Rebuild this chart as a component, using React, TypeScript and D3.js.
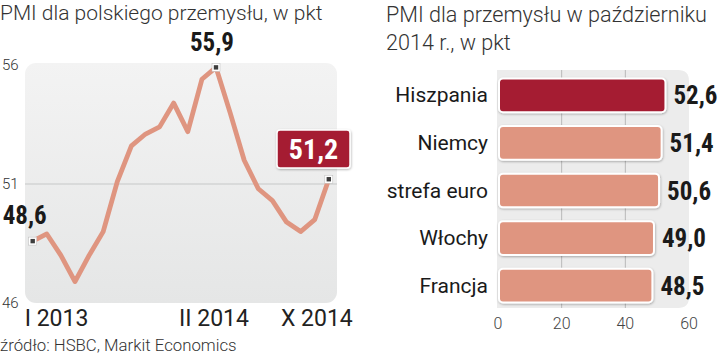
import React from "react";
import * as d3 from "d3";

const pmiPoland = [48.6, 48.9, 48.0, 46.9, 48.0, 49.0, 51.1, 52.6, 53.1, 53.4, 54.4, 53.2, 55.4, 55.9, 54.0, 52.0, 50.8, 50.3, 49.4, 49.0, 49.5, 51.2];
const xTickIdx = [0, 13, 21];
const xTickLabels = ["I 2013", "II 2014", "X 2014"];
const yTicks = [46, 51, 56];
const highlightIdx = [0, 13, 21];

const countries = ["Hiszpania", "Niemcy", "strefa euro", "Włochy", "Francja"];
const countryValues = [52.6, 51.4, 50.6, 49.0, 48.5];
const barTicks = [0, 20, 40, 60];

const leftTitle = "PMI dla polskiego przemysłu, w pkt";
const rightTitle = ["PMI dla przemysłu w październiku", "2014 r., w pkt"];
const source = "źródło: HSBC, Markit Economics";

const LIGHT = "Roboto, 'Open Sans', sans-serif";
const COND = "'Roboto Condensed', 'Liberation Sans Narrow', 'DejaVu Sans Condensed', 'Arial Narrow', sans-serif";
const SALMON = "#df9580";
const RED = "#a51c30";
const fmt = (v: number) => v.toFixed(1).replace(".", ",");

export default function App() {
  const x = d3.scaleLinear().domain([0, pmiPoland.length - 1]).range([32.7, 328.8]);
  const y = d3.scaleLinear().domain([46, 56]).range([303, 65]);
  const line = d3.line<number>().x((_, i) => x(i)).y((d) => y(d));

  const bx = d3.scaleLinear().domain([0, 60]).range([498, 689]);
  const by = d3.scaleBand().domain(countries).range([71, 310]).paddingInner(0.29).paddingOuter(0.16);

  const xAnchors = ["start", "middle", "end"];
  const xOffsets = [-8, -2, 24];

  return (
    <svg width={720} height={355} style={{ position: "absolute", left: 0, top: 0, background: "#fff" }}>
      <defs>
        <linearGradient id="panelGrad" x1="0" y1="0" x2="0" y2="1">
          <stop offset="0" stopColor="#f3f3f3" />
          <stop offset="1" stopColor="#e5e6e6" />
        </linearGradient>
        <filter id="shadow" x="-10%" y="-20%" width="120%" height="150%">
          <feDropShadow dx="0.5" dy="1" stdDeviation="1" floodColor="#000" floodOpacity="0.3" />
        </filter>
      </defs>

      {/* Left chart */}
      <text x={0} y={20} fontFamily={LIGHT} fontWeight={300} fontSize={21} fill="#333">{leftTitle}</text>
      <rect x={25} y={63} width={312} height={240} rx={11} fill="url(#panelGrad)" />
      <line x1={25} x2={337} y1={y(51)} y2={y(51)} stroke="#c6c7c7" strokeWidth={1.2} />
      {yTicks.map((t) => (
        <text key={t} x={2} y={y(t) + 5} fontFamily={LIGHT} fontWeight={300} fontSize={15} fill="#333">{t}</text>
      ))}
      {xTickIdx.map((idx, i) => (
        <text key={idx} x={x(idx) + xOffsets[i]} y={326} textAnchor={xAnchors[i]} fontFamily={LIGHT} fontWeight={400} fontSize={23} fill="#222">{xTickLabels[i]}</text>
      ))}
      <path d={line(pmiPoland) || ""} fill="none" stroke={SALMON} strokeWidth={4.8} strokeLinejoin="round" strokeLinecap="round" />
      {highlightIdx.map((idx) => (
        <g key={idx}>
          <rect x={x(idx) - 4} y={y(pmiPoland[idx]) - 4} width={8} height={8} fill="#fff" stroke="#bbb" strokeWidth={0.5} />
          <rect x={x(idx) - 2.2} y={y(pmiPoland[idx]) - 2.2} width={4.4} height={4.4} fill="#3d3d3d" />
        </g>
      ))}
      <text x={x(0) - 30} y={y(pmiPoland[0]) - 17} fontFamily={COND} fontWeight={700} fontSize={25} fill="#1a1a1a">{fmt(pmiPoland[0])}</text>
      <text x={x(13) - 4} y={51} textAnchor="middle" fontFamily={COND} fontWeight={700} fontSize={25} fill="#1a1a1a">{fmt(pmiPoland[13])}</text>
      <g filter="url(#shadow)">
        <rect x={277} y={130} width={73} height={38} rx={3} fill={RED} stroke="#fff" strokeWidth={1.5} />
      </g>
      <text x={313.5} y={159} textAnchor="middle" fontFamily={COND} fontWeight={700} fontSize={28} fill="#fff">{fmt(pmiPoland[21])}</text>
      <text x={0} y={351} fontFamily={LIGHT} fontWeight={300} fontSize={16.8} fill="#333">{source}</text>

      {/* Right chart */}
      {rightTitle.map((t, i) => (
        <text key={i} x={386} y={22 + i * 28} fontFamily={LIGHT} fontWeight={300} fontSize={21.6} fill="#333">{t}</text>
      ))}
      <path d={`M497,70 H678 Q689,70 689,81 V297 Q689,308 678,308 H497 Z`} fill="#ececec" />
      {barTicks.filter((t) => t > 0 && t < 60).map((t) => (
        <line key={t} x1={bx(t)} x2={bx(t)} y1={70} y2={308} stroke="#b9b9b9" strokeWidth={1} />
      ))}
      {countries.map((c, i) => {
        const yy = by(c) as number;
        const h = by.bandwidth();
        return (
          <g key={c}>
            <rect x={bx(0) + 1} y={yy} width={bx(countryValues[i]) - bx(0) - 1} height={h} rx={4}
              fill={i === 0 ? RED : SALMON} stroke="#fff" strokeWidth={2} filter="url(#shadow)" />
            <text x={488} y={yy + h / 2 + 7} textAnchor="end" fontFamily={LIGHT} fontWeight={400} fontSize={21} fill="#1a1a1a">{c}</text>
            <text x={bx(countryValues[i]) + 8} y={yy + h / 2 + 9} fontFamily={COND} fontWeight={700} fontSize={25} fill="#1a1a1a">{fmt(countryValues[i])}</text>
          </g>
        );
      })}
      {barTicks.map((t) => (
        <text key={t} x={bx(t)} y={329} textAnchor="middle" fontFamily={LIGHT} fontWeight={300} fontSize={16} fill="#444">{t}</text>
      ))}
    </svg>
  );
}
